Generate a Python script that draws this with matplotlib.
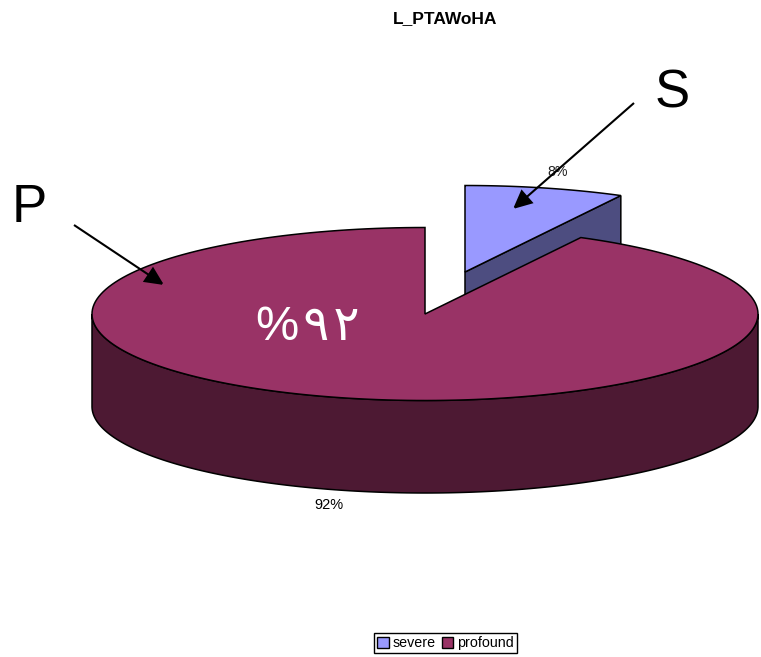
import numpy as np
import matplotlib
matplotlib.use("Agg")
import matplotlib.pyplot as plt
from matplotlib.patches import Polygon, Patch

plt.rcParams['font.family'] = ['Liberation Sans', 'DejaVu Sans']

categories = ['severe', 'profound']
values = [7.75, 92.25]
value_labels = ['8%', '92%']
title = 'L_PTAWoHA'
top_colors = ['#9999FF', '#993366']
side_colors = ['#4D4D80', '#4D1933']

W, H = 761, 657
cx, cy, rx, ry, depth = 425, 314, 333, 86.5, 92.5
ox, oy = 40, -42  # exploded offset of the severe slice

fig = plt.figure(figsize=(W / 100, H / 100), dpi=100)
ax = fig.add_axes([0, 0, 1, 1])
ax.set_xlim(0, W)
ax.set_ylim(H, 0)
ax.axis('off')

split = 2 * np.pi * values[0] / sum(values)


def rim(t0, t1, x0, y0, n=200):
    t = np.linspace(t0, t1, n)
    return np.column_stack([x0 + rx * np.sin(t), y0 - ry * np.cos(t)])


LW = 1.1
EC = 'black'

# severe slice
sx, sy = cx + ox, cy + oy
corner = rim(split, split, sx, sy, 1)[0]
ax.add_patch(Polygon([(sx, sy), corner, (corner[0], corner[1] + depth), (sx, sy + depth)],
                     fc=side_colors[0], ec=EC, lw=LW, zorder=1))
ax.add_patch(Polygon(np.vstack([[(sx, sy)], rim(0, split, sx, sy)]),
                     fc=top_colors[0], ec=EC, lw=LW, zorder=2))

# profound slice
front = rim(np.pi / 2, 3 * np.pi / 2, cx, cy)
band = np.vstack([front, (front + [0, depth])[::-1]])
ax.add_patch(Polygon(band, fc=side_colors[1], ec=EC, lw=LW, zorder=3))
ax.add_patch(Polygon(np.vstack([[(cx, cy)], rim(split, 2 * np.pi, cx, cy)]),
                     fc=top_colors[1], ec=EC, lw=LW, zorder=4))

# labels
ax.text(445.5, 18.5, title, fontsize=12.5, fontweight='bold', ha='center', va='center', zorder=6)
ax.text(557.5, 172, value_labels[0], fontsize=10.3, ha='center', va='center', color='#222222', zorder=5)
ax.text(329, 505, value_labels[1], fontsize=10.5, ha='center', va='center', zorder=6)

# annotations
ax.text(672, 94, 'S', fontsize=38, ha='center', va='center', zorder=6)
ax.text(29.5, 207.5, 'P', fontsize=38, ha='center', va='center', zorder=6)
ax.text(308, 328, '%\u200a\u0669\u200a\u0662', fontsize=35, color='white', ha='center', va='center',
        family=['Liberation Sans', 'DejaVu Sans'], zorder=6)
arrow = dict(arrowstyle='-|>,head_length=0.95,head_width=0.45', color='black', lw=1.5,
             shrinkA=0, shrinkB=0, mutation_scale=12, joinstyle='miter', capstyle='butt')
ax.annotate('', xy=(513, 209), xytext=(634, 103), arrowprops=arrow, zorder=7)
ax.annotate('', xy=(164, 285), xytext=(74, 225), arrowprops=arrow, zorder=7)

# legend
handles = [Patch(fc=c, ec='black', lw=1.0) for c in top_colors]
leg = ax.legend(handles, categories, ncol=2, loc='center', bbox_to_anchor=(445.5 / W, 1 - 643 / H),
                fontsize=10.3, frameon=True, fancybox=False, edgecolor='black', framealpha=1,
                handlelength=0.8, handleheight=0.8, handletextpad=0.25, columnspacing=0.45,
                borderpad=0.2, borderaxespad=0)
leg.get_frame().set_linewidth(1.0)

fig.savefig('out.png', dpi=100)
